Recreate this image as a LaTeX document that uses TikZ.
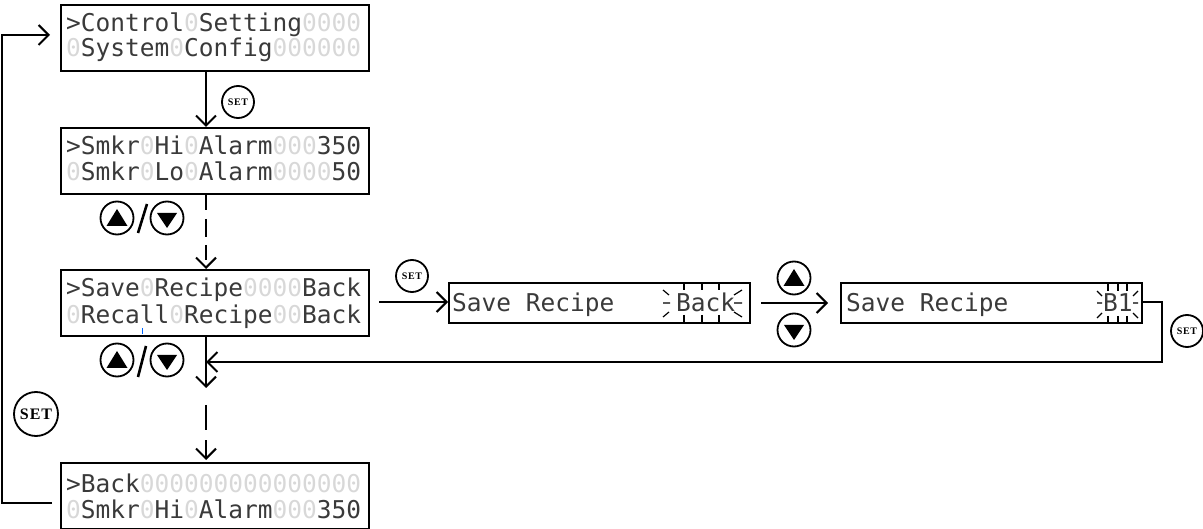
\documentclass[tikz,border=0pt]{standalone}
\usepackage{fontspec}
\setmainfont{Liberation Serif}
\newfontfamily\lcdfont{DejaVu Sans Mono}
\newfontfamily\setfont[LetterSpace=6]{Liberation Serif}
\usetikzlibrary{arrows.meta,calc}
\definecolor{lcdgray}{HTML}{D8D8D8}
\definecolor{lcdink}{HTML}{3A3A3A}
\newcommand\zz[1]{\textcolor{lcdgray}{#1}}
\newcommand\upbtn[3]{\node[btn] (#3) at (#1,#2) {};
  \fill ($(#3.center)+(-10.5,8)$) -- ($(#3.center)+(10.5,8)$) -- ($(#3.center)+(0,-9)$) -- cycle;}
\newcommand\downbtn[3]{\node[btn] (#3) at (#1,#2) {};
  \fill ($(#3.center)+(-10,-5)$) -- ($(#3.center)+(10,-5)$) -- ($(#3.center)+(0,10)$) -- cycle;}
\tikzset{
  x=1pt,y=-1pt,
  lcdbox/.style={draw,line width=2pt,minimum width=308pt,minimum height=66pt,inner sep=0pt,anchor=north west},
  widebox/.style={draw,line width=2pt,minimum width=301pt,minimum height=40pt,inner sep=0pt,anchor=north west},
  lcdtext/.style={inner sep=0pt,anchor=base west,font=\lcdfont\fontsize{24.5}{26}\selectfont,text=lcdink},
  setbtn/.style={circle,draw,line width=1.8pt,minimum size=32pt,inner sep=0pt,font=\setfont\bfseries\fontsize{10}{10}\selectfont},
  bigset/.style={circle,draw,line width=1.8pt,minimum size=44pt,inner sep=0pt,font=\setfont\bfseries\fontsize{16}{16}\selectfont},
  btn/.style={circle,draw,line width=1.8pt,minimum size=33pt,inner sep=0pt},
  flow/.style={line width=2pt,-{Straight Barb[length=10pt,width=20pt,line width=2pt]}},
  blink/.style={line width=1.2pt},
}
\begin{document}
\begin{tikzpicture}
\useasboundingbox (0,0) rectangle (1203,529);
% LCD panels
\node[lcdbox] (p1) at (60,4) {};
\node[lcdbox] (p2) at (60,127) {};
\node[lcdbox] (p3) at (60,269) {};
\node[lcdbox] (p4) at (60,462) {};
\node[widebox] (p5) at (448,282) {};
\node[widebox] (p6) at (840,282) {};
% texts
\node[lcdtext] (t1a) at (66,32) {>Control\zz{0}Setting\zz{0000}};
\node[lcdtext] (t1b) at (66,57) {\zz{0}System\zz{0}Config\zz{000000}};
\node[lcdtext] (t2a) at (66,155) {>Smkr\zz{0}Hi\zz{0}Alarm\zz{000}350};
\node[lcdtext] (t2b) at (66,181) {\zz{0}Smkr\zz{0}Lo\zz{0}Alarm\zz{0000}50};
\node[lcdtext] (t3a) at (66,297) {>Save\zz{0}Recipe\zz{0000}Back};
\node[lcdtext] (t3b) at (66,324) {\zz{0}Recall\zz{0}Recipe\zz{00}Back};
\node[lcdtext] (t4a) at (66,492) {>Back\zz{000000000000000}};
\node[lcdtext] (t4b) at (66,518) {\zz{0}Smkr\zz{0}Hi\zz{0}Alarm\zz{000}350};
\node[lcdtext] (t5a) at (452,312) {Save Recipe};
\node[lcdtext] (t5b) at (676,312) {Back};
\node[lcdtext] (t6a) at (846,312) {Save Recipe};
\node[lcdtext] (t6b) at (1103,312) {B1};
% helper coordinates
\coordinate (axis) at (206,0);
\coordinate (j1) at (206,388);
\coordinate (j2) at (206,405);
\coordinate (j3) at (206,362);
\coordinate (in5a) at (379,302);
\coordinate (out5) at (761,303);
\coordinate (r1) at (1162,302);
\coordinate (r2) at (1162,362);
\coordinate (l1) at (2,503);
\coordinate (l2) at (2,35);
\coordinate (l0) at (52,503);
\coordinate (tip1) at (50,35);
\coordinate (tip6) at (828,303);
% connectors
\draw[flow] (p1.south -| axis) -- (p2.north -| axis);
\draw[flow,dash pattern=on 15pt off 9pt on 18pt off 8pt] (p2.south -| axis) -- (p3.north -| axis);
\draw[flow] (p3.south -| axis) -- (j1);
\draw[flow,dash pattern=on 25pt off 10pt] (j2) -- ($(p4.north -| axis)+(0,-2)$);
\draw[flow] (in5a) -- (p5.west |- in5a);
\draw[flow] (out5) -- (tip6);
\draw[flow] (p6.east |- r1) -- (r1) -- (r2) -- (j3);
\draw[flow] (l0) -- (l1) -- (l2) -- (tip1);
% SET buttons
\node[setbtn] (s1) at (238,102) {SET};
\node[setbtn] (s2) at (412,276) {SET};
\node[setbtn] (s3) at (1187,331) {SET};
\node[bigset] (s4) at (36,414) {SET};
% arrow buttons
\upbtn{117}{218}{u1}\downbtn{167}{218}{d1}
\draw[line width=2.6pt] (138,233) -- (147,204);
\upbtn{117}{360}{u2}\downbtn{167}{360}{d2}
\draw[line width=2.6pt] (138,377) -- (146,346);
\upbtn{794}{278}{u3}\downbtn{794}{330}{d3}
% blink marks, Back
\foreach \x in {684,702,719}{\draw[blink] (\x,283) -- (\x,290) (\x,315) -- (\x,322);}
\draw[blink] (663,303) -- (670,303) (663,290) -- (669,295) (663,317) -- (669,312);
\draw[blink] (734,303) -- (742,303) (734,295) -- (742,290) (734,312) -- (742,317);
% blink marks, B1
\foreach \x in {1108,1118,1127}{\draw[blink] (\x,284) -- (\x,291) (\x,316) -- (\x,322);}
\draw[blink] (1097,303) -- (1102,303) (1097,291) -- (1102,296) (1097,318) -- (1102,313);
\draw[blink] (1133,303) -- (1138,303) (1133,296) -- (1138,291) (1133,313) -- (1138,318);
% stray blue mark
\draw[line width=1pt,color=blue!60!cyan] (142,328) -- (142,334);
\end{tikzpicture}
\end{document}
